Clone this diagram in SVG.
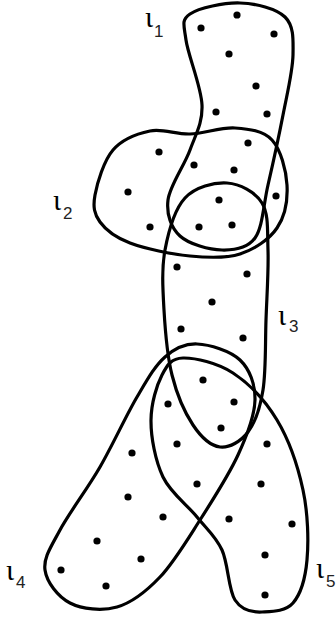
<svg xmlns="http://www.w3.org/2000/svg" width="336" height="617" viewBox="0 0 336 617">
<style>
.edge{fill:none;stroke:#000;stroke-width:3.2}
.v{fill:#000}
.l{font-family:"Liberation Serif","DejaVu Serif",serif;font-size:30px;fill:#000}
.s{font-family:"Liberation Sans","DejaVu Sans",sans-serif;font-size:17px;fill:#222}
</style>
<rect width="336" height="617" fill="#fff"/>
<g id="connectors">
<path id="e1-shape" class="edge" d="M190,14 C199,7.8 224.2,2.5 240,3 C255.8,3.5 276.2,8.3 285,17 C293.8,25.7 293.3,38.7 293,55 C292.7,71.3 287.2,93.3 283,115 C278.8,136.7 272.7,164.5 268,185 C263.3,205.5 262.7,227.2 255,238 C247.3,248.8 234.5,250.3 222,250 C209.5,249.7 189,244.3 180,236 C171,227.7 166.3,214.3 168,200 C169.7,185.7 184.3,165.8 190,150 C195.7,134.2 202.7,123.3 202,105 C201.3,86.7 188,55.2 186,40 C184,24.8 181,20.2 190,14 Z"/>
<path id="e2-shape" class="edge" d="M95,195 C97.2,183 103.8,160.7 113,150 C122.2,139.3 137.2,133.7 150,131 C162.8,128.3 175.8,134.5 190,134 C204.2,133.5 221.3,127 235,128 C248.7,129 263.3,130.5 272,140 C280.7,149.5 286.2,170.3 287,185 C287.8,199.7 284.8,216.5 277,228 C269.2,239.5 254.5,249.3 240,254 C225.5,258.7 208.3,257.8 190,256 C171.7,254.2 145,248.7 130,243 C115,237.3 105.8,230 100,222 C94.2,214 92.8,207 95,195 Z"/>
<path id="e3-shape" class="edge" d="M227,183 C239.8,183.8 255.2,191.8 262,203 C268.8,214.2 267.3,230.5 268,250 C268.7,269.5 266.8,296.7 266,320 C265.2,343.3 266,371.3 263,390 C260,408.7 255.2,422.5 248,432 C240.8,441.5 229.2,448.2 220,447 C210.8,445.8 201,437 193,425 C185,413 176.8,394.2 172,375 C167.2,355.8 165.2,330.8 164,310 C162.8,289.2 161.5,268.7 165,250 C168.5,231.3 174.7,209.2 185,198 C195.3,186.8 214.2,182.2 227,183 Z"/>
<path id="e4-shape" class="edge" d="M197,344 C209.5,344.5 230.3,350.7 240,360 C249.7,369.3 255.3,384.2 255,400 C254.7,415.8 247.2,435 238,455 C228.8,475 213,499.7 200,520 C187,540.3 173.8,562.5 160,577 C146.2,591.5 132,602.7 117,607 C102,611.3 82,609.2 70,603 C58,596.8 46.7,582.2 45,570 C43.3,557.8 50.8,547.2 60,530 C69.2,512.8 87.2,489.2 100,467 C112.8,444.8 126.2,415.3 137,397 C147.8,378.7 155,365.8 165,357 C175,348.2 184.5,343.5 197,344 Z"/>
<path id="e5-shape" class="edge" d="M183,358 C194.8,357.7 217.3,362.7 233,373 C248.7,383.3 265.3,400.5 277,420 C288.7,439.5 298,466.7 303,490 C308,513.3 308.7,541.2 307,560 C305.3,578.8 300.5,594.3 293,603 C285.5,611.7 271.7,611.5 262,612 C252.3,612.5 241.7,610.3 235,600 C228.3,589.7 228.3,563.8 222,550 C215.7,536.2 206.8,529.2 197,517 C187.2,504.8 170.7,493.2 163,477 C155.3,460.8 150.8,437 151,420 C151.2,403 156.7,385.3 162,375 C167.3,364.7 171.2,358.3 183,358 Z"/>
</g>
<g id="vertices">
<circle class="v" r="3.6" cx="237" cy="15"/><circle class="v" r="3.6" cx="201" cy="28"/><circle class="v" r="3.6" cx="274" cy="34"/><circle class="v" r="3.6" cx="229" cy="54"/><circle class="v" r="3.6" cx="256" cy="86"/><circle class="v" r="3.6" cx="216" cy="112"/><circle class="v" r="3.6" cx="267" cy="114"/>
<circle class="v" r="3.6" cx="159" cy="152"/><circle class="v" r="3.6" cx="248" cy="143"/><circle class="v" r="3.6" cx="194" cy="165"/><circle class="v" r="3.6" cx="234" cy="170"/><circle class="v" r="3.6" cx="128" cy="192"/><circle class="v" r="3.6" cx="219" cy="200"/><circle class="v" r="3.6" cx="276" cy="196"/><circle class="v" r="3.6" cx="150" cy="227"/><circle class="v" r="3.6" cx="199" cy="227"/><circle class="v" r="3.6" cx="232" cy="225"/>
<circle class="v" r="3.6" cx="177" cy="267"/><circle class="v" r="3.6" cx="247" cy="274"/><circle class="v" r="3.6" cx="212" cy="302"/><circle class="v" r="3.6" cx="181" cy="329"/><circle class="v" r="3.6" cx="243" cy="338"/>
<circle class="v" r="3.6" cx="203" cy="380"/><circle class="v" r="3.6" cx="168" cy="404"/><circle class="v" r="3.6" cx="234" cy="402"/><circle class="v" r="3.6" cx="221" cy="428"/><circle class="v" r="3.6" cx="132" cy="453"/><circle class="v" r="3.6" cx="177" cy="444"/><circle class="v" r="3.6" cx="267" cy="444"/><circle class="v" r="3.6" cx="128" cy="497"/><circle class="v" r="3.6" cx="197" cy="484"/><circle class="v" r="3.6" cx="261" cy="484"/><circle class="v" r="3.6" cx="163" cy="517"/><circle class="v" r="3.6" cx="229" cy="519"/><circle class="v" r="3.6" cx="292" cy="524"/><circle class="v" r="3.6" cx="97" cy="541"/><circle class="v" r="3.6" cx="141" cy="559"/><circle class="v" r="3.6" cx="265" cy="555"/><circle class="v" r="3.6" cx="61" cy="570"/><circle class="v" r="3.6" cx="106" cy="586"/><circle class="v" r="3.6" cx="265" cy="595"/>
</g>
<g id="e1"><text class="l" x="145" y="27">ɩ</text><text class="s" x="154" y="37">1</text></g>
<g id="e2"><text class="l" x="53" y="210">ɩ</text><text class="s" x="63" y="219">2</text></g>
<g id="e3"><text class="l" x="278" y="325">ɩ</text><text class="s" x="289" y="332">3</text></g>
<g id="e4"><text class="l" x="6" y="580">ɩ</text><text class="s" x="16" y="588">4</text></g>
<g id="e5"><text class="l" x="316" y="578">ɩ</text><text class="s" x="326" y="587">5</text></g>
</svg>
